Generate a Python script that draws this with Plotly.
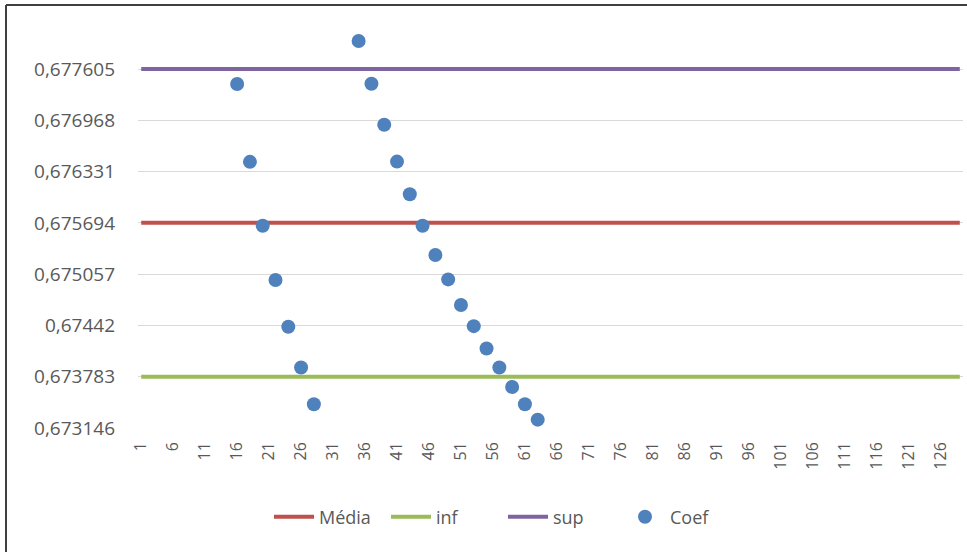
import plotly.graph_objects as go

# Categories on the x axis (1..129) and the labelled ones
categories = list(range(1, 130))
x_tick_labels = [str(v) for v in range(1, 130, 5)]

# Reference levels
media = 0.675694
inf = 0.673783
sup = 0.677605

# Coefficient observations
coef_x = [16, 18, 20, 22, 24, 26, 28,
          35, 37, 39, 41, 43, 45, 47, 49, 51, 53, 55, 57, 59, 61, 63]
coef_y = [0.677418, 0.676452, 0.675659, 0.674984, 0.674403, 0.673897, 0.673441,
          0.677953, 0.677422, 0.676912, 0.676455, 0.676050, 0.675659, 0.675295,
          0.674992, 0.674673, 0.674411, 0.674134, 0.673897, 0.673656, 0.673441,
          0.673250]

# Y axis ticks
y_ticks = [0.673146, 0.673783, 0.674420, 0.675057, 0.675694, 0.676331, 0.676968, 0.677605]
y_tick_labels = ["0,673146", "0,673783", "0,67442", "0,675057",
                 "0,675694", "0,676331", "0,676968", "0,677605"]

W, H = 967, 552
L, R, T, B = 138, 4, 25, 124
PW, PH = W - L - R, H - T - B

FONT = "Open Sans"
GREY = "#595959"

fig = go.Figure()
for name, level, color in [("Média", media, "#C0504D"),
                           ("inf", inf, "#9BBB59"),
                           ("sup", sup, "#8064A2")]:
    fig.add_trace(go.Scatter(
        x=[categories[0], categories[-1]], y=[level, level],
        mode="lines", name=name,
        line=dict(color=color, width=4),
        hoverinfo="skip",
    ))

fig.add_trace(go.Scatter(
    x=coef_x, y=coef_y, mode="markers", name="Coef",
    marker=dict(color="#4F81BD", size=14),
))

y_top = y_ticks[0] + (y_ticks[-1] - y_ticks[0]) * (428 - T) / (428 - 69)


def px_x(p):
    return (p - L) / PW


def px_y(p):
    return (H - B - p) / PH


fig.update_layout(
    width=W, height=H,
    margin=dict(l=L, r=R, t=T, b=B),
    paper_bgcolor="white", plot_bgcolor="white",
    font=dict(family=FONT, color=GREY),
    showlegend=True,
    legend=dict(
        orientation="h",
        x=px_x(503), xanchor="center",
        y=px_y(517), yanchor="middle",
        font=dict(size=18, color=GREY, family=FONT),
        itemwidth=40,
        entrywidth=62,
    ),
    xaxis=dict(
        range=[0.5, len(categories) + 0.5],
        tickmode="array",
        tickvals=list(range(1, 130, 5)),
        ticktext=x_tick_labels,
        tickangle=-90,
        tickfont=dict(size=16, color=GREY, family=FONT),
        showgrid=False, zeroline=False,
        showline=False,
        ticks="", ticklabelstandoff=10,
    ),
    yaxis=dict(
        range=[y_ticks[0], y_top],
        tickmode="array",
        tickvals=y_ticks,
        ticktext=y_tick_labels,
        tickfont=dict(size=19, color=GREY, family=FONT),
        showgrid=True, gridcolor="#D9D9D9", gridwidth=1,
        zeroline=False, showline=False,
        ticks="", ticklabelstandoff=22,
    ),
    shapes=[
        # chart frame (top and left edges)
        dict(type="line", xref="paper", yref="paper",
             x0=px_x(6), x1=px_x(970), y0=px_y(5), y1=px_y(5),
             line=dict(color="#404040", width=2)),
        dict(type="line", xref="paper", yref="paper",
             x0=px_x(6), x1=px_x(6), y0=px_y(5), y1=px_y(560),
             line=dict(color="#404040", width=2)),
    ],
)

fig.write_html("out.html")
